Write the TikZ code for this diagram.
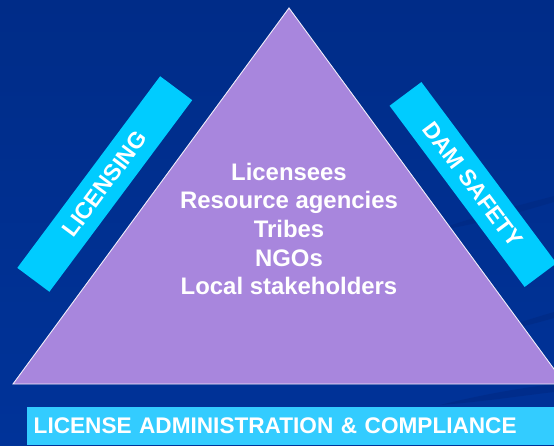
\documentclass[tikz,border=0pt]{standalone}
\usepackage{fontspec}
\setmainfont{Liberation Sans}
\usepackage{tikz}
\usetikzlibrary{positioning}
\usetikzlibrary{calc}

\definecolor{slideblue}{RGB}{0,48,146}
\definecolor{slidetop}{RGB}{0,44,136}
\definecolor{slidebot}{RGB}{0,51,153}
\definecolor{streak}{RGB}{0,40,128}
\definecolor{pyramid}{RGB}{168,134,221}
\definecolor{bandcyan}{RGB}{0,204,255}
\definecolor{basecyan}{RGB}{51,204,255}

\begin{document}
\begin{tikzpicture}[x=1pt, y=-1pt,
  band/.style={fill=bandcyan, text=white, inner sep=0pt, font=\bfseries\fontsize{23}{26}\selectfont},
  groups/.style={text=white, align=center, inner sep=0pt, font=\bfseries\fontsize{23.9}{28.7}\selectfont},
  basebar/.style={fill=basecyan, text=white, anchor=north west, inner xsep=6.5pt, inner ysep=0pt,
    minimum width=540pt, minimum height=38pt, text width=527pt, align=left,
    font=\bfseries\fontsize{22.6}{26}\selectfont}]

% background
\useasboundingbox (0,0) rectangle (554,445);
\clip (0,0) rectangle (554,445);
\shade [top color=slidetop, bottom color=slidebot] (0,0) rectangle (554,445);
\fill [streak, opacity=0.5] (430,232) .. controls (480,215) and (520,205) .. (554,196) -- (554,202) .. controls (520,212) and (480,224) .. cycle;
\fill [streak, opacity=0.5] (500,330) .. controls (520,322) and (540,316) .. (554,312) -- (554,318) .. controls (540,322) and (520,328) .. cycle;
\fill [streak, opacity=0.5] (440,405) .. controls (480,395) and (520,388) .. (554,384) -- (554,392) .. controls (520,396) and (480,402) .. cycle;

% pyramid
\coordinate (apex) at (289,8);
\coordinate (left) at (13,384);
\coordinate (right) at (565,384);
\filldraw [fill=pyramid, draw=white!85!pyramid, line width=0.9pt, line join=miter] (apex) -- (left) -- (right) -- cycle;
\node [groups] (members) at (289,229) {Licensees\\Resource agencies\\Tribes\\NGOs\\Local stakeholders};

% side bands
\node [band, rotate=53.3, minimum width=239pt, minimum height=40pt] (licensing) at (104.75,184) {LICENSING};
\node [band, rotate=-53.3, minimum width=226pt, minimum height=39.7pt] (safety) at (473,184.5) {DAM SAFETY};

% bottom band
\node [basebar] (admin) at (27,407) {LICENSE ADMINISTRATION \& COMPLIANCE};

\end{tikzpicture}
\end{document}
